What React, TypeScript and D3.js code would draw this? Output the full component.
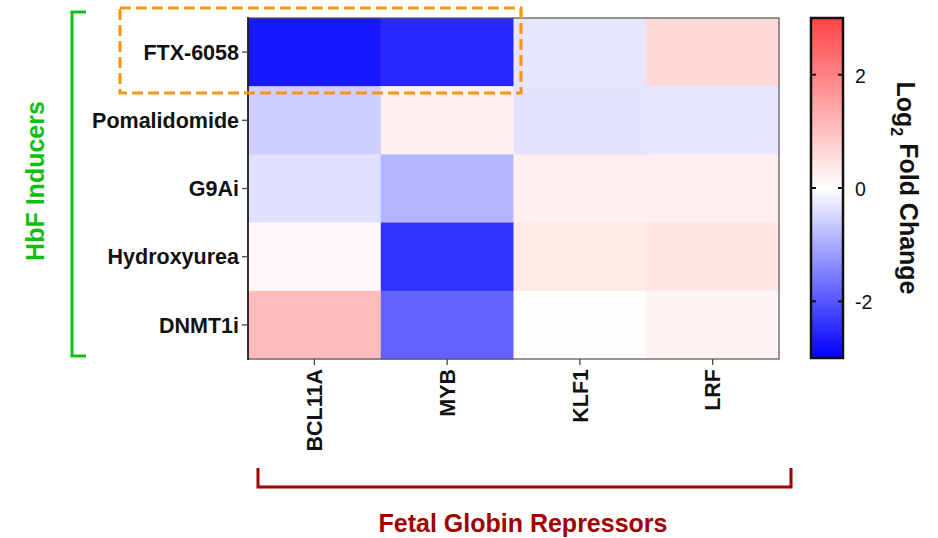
import React from "react";
import * as d3 from "d3";

const rows = ["FTX-6058", "Pomalidomide", "G9Ai", "Hydroxyurea", "DNMT1i"];
const cols = ["BCL11A", "MYB", "KLF1", "LRF"];
const ftx = [-2.72, -2.53, -0.29, 0.63];
const pomalidomide = [-0.56, 0.26, -0.32, -0.29];
const g9ai = [-0.36, -0.88, 0.26, 0.24];
const hydroxyurea = [0.11, -2.41, 0.37, 0.4];
const dnmt1i = [1.07, -1.85, 0.04, 0.21];
const values = [ftx, pomalidomide, g9ai, hydroxyurea, dnmt1i];
const colorTicks = [-2, 0, 2];

const W = 938, H = 538;
const FONT = "'Liberation Sans', Arial, sans-serif";

export default function App() {
  const x = d3.scaleBand<string>().domain(cols).range([248, 779]);
  const y = d3.scaleBand<string>().domain(rows).range([18, 359]);
  const color = d3
    .scaleLinear<string>()
    .domain([-3, 0, 3])
    .range(["#0000ff", "#ffffff", "#ff4444"])
    .clamp(true);
  const cb = d3.scaleLinear().domain([-3, 3]).range([358, 18]);
  const gradStops = d3.range(0, 1.0001, 0.1).map((t) => ({ t, v: -3 + 6 * t }));

  return (
    <svg width={W} height={H} style={{ position: "absolute", left: 0, top: 0 }} fontFamily={FONT}>
      <defs>
        <linearGradient id="cbgrad" x1="0" y1="1" x2="0" y2="0">
          {gradStops.map((s) => (
            <stop key={s.t} offset={s.t} stopColor={color(s.v)} />
          ))}
        </linearGradient>
      </defs>
      <rect width={W} height={H} fill="#fff" />
      {/* cells */}
      {values.map((row, i) =>
        row.map((v, j) => (
          <rect
            key={`${i}-${j}`}
            x={x(cols[j])}
            y={y(rows[i])}
            width={x.bandwidth() + 0.5}
            height={y.bandwidth() + 0.5}
            fill={color(v)}
          />
        ))
      )}
      {/* frame */}
      <rect x={248} y={18} width={531} height={341} fill="none" stroke="#555" strokeOpacity={0.8} strokeWidth={1.5} />
      <line x1={248} x2={248} y1={17} y2={360} stroke="#111" strokeWidth={1.5} />
      {/* y ticks and labels */}
      {rows.map((r) => {
        const cy = y(r)! + y.bandwidth() / 2;
        return (
          <g key={r}>
            <line x1={242} x2={248} y1={cy} y2={cy} stroke="#444" strokeWidth={1.3} />
            <text x={239} y={cy} dy="0.36em" textAnchor="end" fontSize={21.5} fontWeight="bold" fill="#111">
              {r}
            </text>
          </g>
        );
      })}
      {/* x ticks and labels */}
      {cols.map((c) => {
        const cx = x(c)! + x.bandwidth() / 2;
        return (
          <g key={c}>
            <line x1={cx} x2={cx} y1={359} y2={365} stroke="#444" strokeWidth={1.3} />
            <text
              transform={`translate(${cx},${369}) rotate(-90)`}
              dy="0.36em"
              textAnchor="end"
              fontSize={21.5}
              fontWeight="bold"
              fill="#111"
            >
              {c}
            </text>
          </g>
        );
      })}
      {/* orange dashed box */}
      <rect x={120} y={8} width={401} height={85} fill="none" stroke="#f7961e" strokeWidth={3.2} strokeDasharray="11 5" />
      {/* green bracket */}
      <path d="M86,12 H72 V356 H86" fill="none" stroke="#10bf10" strokeWidth={3} />
      <text
        transform={`translate(${35},${181}) rotate(-90)`}
        dy="0.36em"
        textAnchor="middle"
        fontSize={25}
        fontWeight="bold"
        fill="#10bf10"
      >
        HbF Inducers
      </text>
      {/* red bracket */}
      <path d="M258,468 V487 H791 V468" fill="none" stroke="#a30000" strokeWidth={3} />
      <text x={523} y={523} dy="0.36em" textAnchor="middle" fontSize={25} fontWeight="bold" fill="#a30000">
        Fetal Globin Repressors
      </text>
      {/* colorbar */}
      <rect x={811} y={18} width={32} height={340} fill="url(#cbgrad)" stroke="#111" strokeWidth={2.5} />
      {colorTicks.map((t) => (
        <g key={t}>
          <line x1={811} x2={816} y1={cb(t)} y2={cb(t)} stroke="#111" strokeWidth={2} />
          <line x1={838} x2={843} y1={cb(t)} y2={cb(t)} stroke="#111" strokeWidth={2} />
          <text x={855} y={cb(t) + 1} dy="0.36em" fontSize={19.5} fill="#111">
            {t}
          </text>
        </g>
      ))}
      <text transform={`translate(${906},${188}) rotate(90)`} dy="0.36em" textAnchor="middle" fontSize={25} fontWeight="bold" fill="#111">
        Log<tspan fontSize={16} dy="0.35em">2</tspan>
        <tspan dy="-0.35em"> Fold Change</tspan>
      </text>
    </svg>
  );
}
